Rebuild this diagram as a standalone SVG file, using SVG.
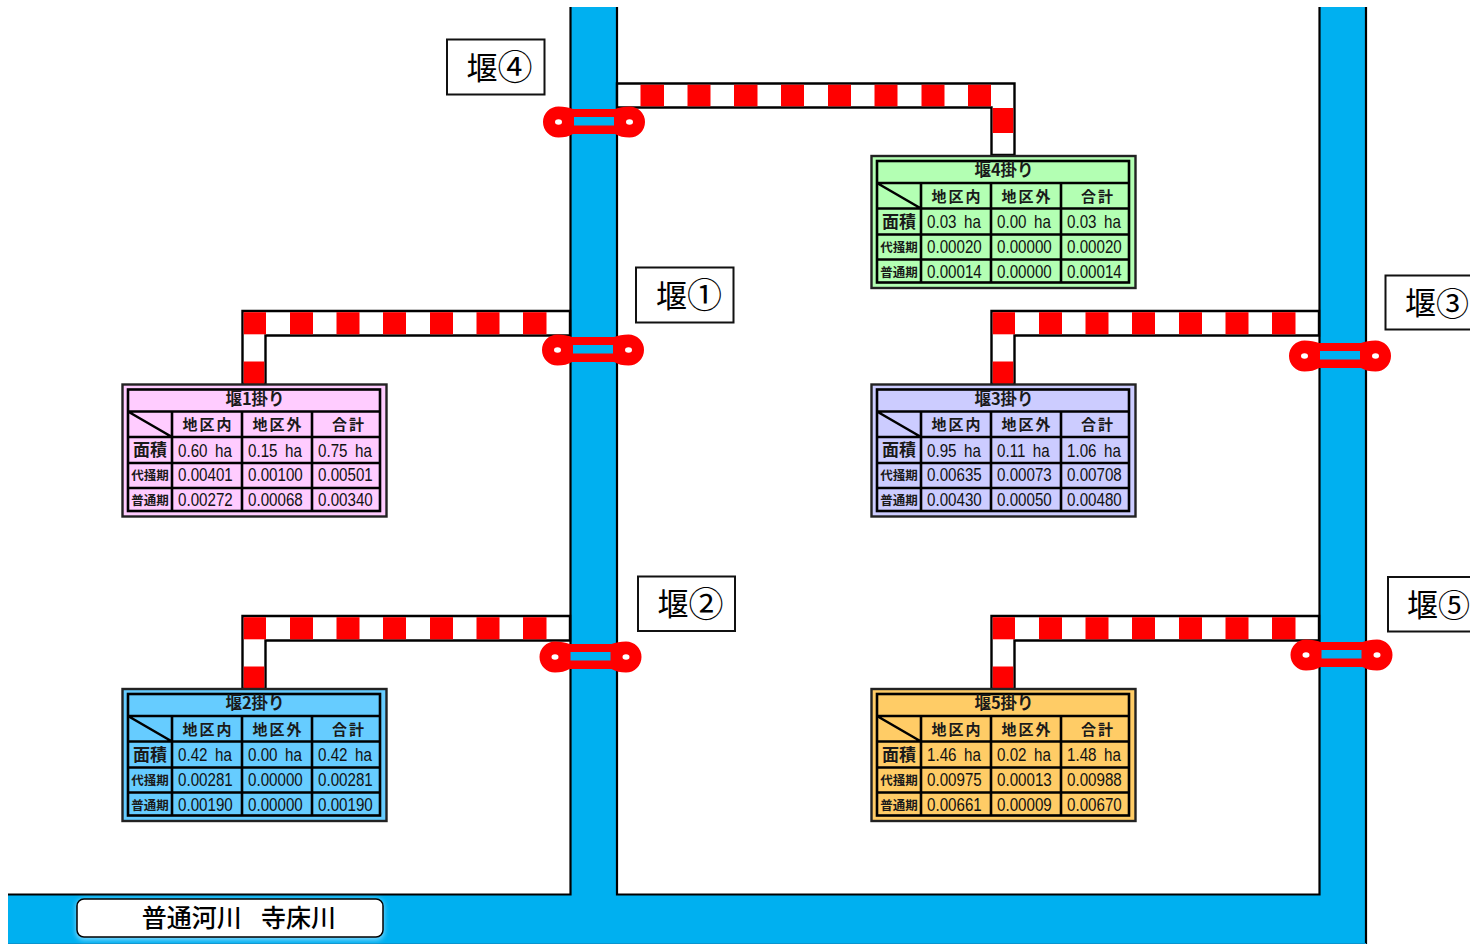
<svg xmlns="http://www.w3.org/2000/svg" xmlns:xlink="http://www.w3.org/1999/xlink" width="1470" height="944" viewBox="0 0 1470 944">
<style>
text{font-family:"Noto Sans CJK JP","Liberation Sans",sans-serif;fill:#000;text-anchor:middle}
.n{font-family:"Liberation Sans","Noto Sans CJK JP",sans-serif;font-size:18.500px;text-anchor:start;word-spacing:4px;transform-box:fill-box;transform-origin:0 0;transform:scaleX(.82);fill:#111}
.h{font-size:15px;letter-spacing:2px;font-weight:700;fill:#1a1a1a}
.t{font-size:16.500px;font-weight:700;fill:#1a1a1a}
.a{font-size:17px;font-weight:700;fill:#1a1a1a}
.s{font-size:12.500px;font-weight:700;fill:#1a1a1a}
.w{font-size:31px}
.c{font-size:35px}
.box{fill:#fff;stroke:#111;stroke-width:2}
.ln{stroke:#000;stroke-width:2.600;fill:none}
.rl{stroke:#000;stroke-width:2.200;fill:none}
.out{stroke:#222;stroke-width:2.400}
.river{fill:#00b0f0}
.red{fill:#f00}
.pipe{fill:#fff;stroke:#000;stroke-width:2.400}
</style>
<defs>
<filter id="glow" x="-10%" y="-30%" width="120%" height="160%"><feGaussianBlur stdDeviation="2.500"/></filter>
<g id="grid">
<rect x="6" y="5.500" width="252" height="121.500" class="ln"/>
<path class="ln" d="M6 27.500H258M6 53H258M6 79H258M6 104H258M50 27.500V127M120 27.500V127M190 27.500V127M6 27.500L50 53"/>
</g>
<g id="pipeA">
<path class="pipe" d="M570 311H242.500V384H265.500V335.500H570Z"/>
<g class="red">
<rect x="243.700" y="312.200" width="22.300" height="22.100"/><rect x="290" y="312.200" width="23" height="22.100"/><rect x="336.500" y="312.200" width="23" height="22.100"/><rect x="383" y="312.200" width="23" height="22.100"/><rect x="430" y="312.200" width="23" height="22.100"/><rect x="476.500" y="312.200" width="23" height="22.100"/><rect x="523" y="312.200" width="23.500" height="22.100"/>
<rect x="243.700" y="361.500" width="20.600" height="22.500"/>
</g>
</g>
<g id="gate">
<path class="red" d="M-35.500 -15.500A15.500 15.500 0 0 0 -35.500 15.500Q-27 15.500 -21 12H21Q27 15.500 35.500 15.500A15.500 15.500 0 0 0 35.500 -15.500Q27 -15.500 21 -13H-21Q-27 -15.500 -35.500 -15.500Z"/>
<rect class="river" x="-20" y="-5" width="40" height="8.500"/>
<ellipse cx="-35.500" cy="0" rx="3.500" ry="2.800" fill="#fff"/>
<ellipse cx="35.500" cy="0" rx="3.500" ry="2.800" fill="#fff"/>
</g>
</defs>

<g id="river">
<path class="river" d="M570 7H617V894H1319V7H1366V944H8V894H570Z"/>
<path class="rl" d="M570.500 7V894.500H8M617 7V894.500H1319.500V7M1366 7V944"/>
<path d="M8 943.500H1366" stroke="#0a94cf" stroke-width="1" fill="none"/>
</g>

<g id="connectors">
<use xlink:href="#pipeA" href="#pipeA"/>
<use xlink:href="#pipeA" href="#pipeA" transform="translate(0,305)"/>
<use xlink:href="#pipeA" href="#pipeA" transform="translate(749,0)"/>
<use xlink:href="#pipeA" href="#pipeA" transform="translate(749,305)"/>
<g id="pipe4">
<path class="pipe" d="M617 83.500H1014.500V155H991.500V107.500H617Z"/>
<g class="red">
<rect x="640.500" y="84.700" width="23.500" height="21.600"/><rect x="687.500" y="84.700" width="23" height="21.600"/><rect x="734" y="84.700" width="23.500" height="21.600"/><rect x="781" y="84.700" width="23" height="21.600"/><rect x="828" y="84.700" width="23" height="21.600"/><rect x="874.500" y="84.700" width="23" height="21.600"/><rect x="921.500" y="84.700" width="23" height="21.600"/><rect x="968" y="84.700" width="23" height="21.600"/>
<rect x="992.700" y="108" width="20.600" height="25"/>
</g>
</g>
<use id="gate4" xlink:href="#gate" href="#gate" transform="translate(594,122)"/>
<use id="gate1" xlink:href="#gate" href="#gate" transform="translate(593,350)"/>
<use id="gate2" xlink:href="#gate" href="#gate" transform="translate(590.500,657)"/>
<use id="gate3" xlink:href="#gate" href="#gate" transform="translate(1340,356)"/>
<use id="gate5" xlink:href="#gate" href="#gate" transform="translate(1341.500,655)"/>
</g>

<g id="label4"><rect class="box" x="447" y="39.500" width="97.500" height="55"/><text class="w" x="499.500" y="78.500">堰<tspan class="c" dy="1.500">④</tspan></text></g>
<g id="label1"><rect class="box" x="636" y="267.500" width="97.500" height="55"/><text class="w" x="689" y="306.500">堰<tspan class="c" dy="1.500">①</tspan></text></g>
<g id="label2"><rect class="box" x="638" y="576.500" width="97" height="54.500"/><text class="w" x="690.500" y="615">堰<tspan class="c" dy="1.500">②</tspan></text></g>
<g id="label3"><rect class="box" x="1385.500" y="275.500" width="97" height="54"/><text class="w" x="1437" y="314">堰<tspan class="c" dy="1.500" font-size="33" style="font-size:33px">③</tspan></text></g>
<g id="label5"><rect class="box" x="1388" y="577" width="97" height="54.500"/><text class="w" x="1438.500" y="615.500">堰<tspan class="c" dy="1" style="font-size:32px">⑤</tspan></text></g>

<g id="river-name"><rect x="76" y="899" width="308" height="41" rx="8" fill="#7fd8ff" filter="url(#glow)"/><rect x="77" y="899" width="306" height="38" rx="7" fill="#fff" stroke="#000" stroke-width="1.500"/><text x="239" y="927" font-size="25" font-weight="500" xml:space="preserve" word-spacing="4">普通河川  寺床川</text></g>

<g id="table1" transform="translate(122,384)">
<rect class="out" x="0.500" y="0.500" width="264" height="132" fill="#ffccff"/><use xlink:href="#grid" href="#grid"/>
<text class="t" x="133" y="20.500">堰1掛り</text><text class="h" x="86" y="46">地区内</text><text class="h" x="156" y="46">地区外</text><text class="h" x="227" y="46">合計</text>
<text class="a" x="28" y="72">面積</text><text class="s" x="28" y="96">代掻期</text><text class="s" x="28" y="121">普通期</text>
<text class="n" x="56" y="72.500">0.60 ha</text><text class="n" x="126" y="72.500">0.15 ha</text><text class="n" x="196" y="72.500">0.75 ha</text>
<text class="n" x="56" y="97.500">0.00401</text><text class="n" x="126" y="97.500">0.00100</text><text class="n" x="196" y="97.500">0.00501</text>
<text class="n" x="56" y="122.500">0.00272</text><text class="n" x="126" y="122.500">0.00068</text><text class="n" x="196" y="122.500">0.00340</text>
</g>
<g id="table2" transform="translate(122,688.500)">
<rect class="out" x="0.500" y="0.500" width="264" height="132" fill="#66ccff"/><use xlink:href="#grid" href="#grid"/>
<text class="t" x="133" y="20.500">堰2掛り</text><text class="h" x="86" y="46">地区内</text><text class="h" x="156" y="46">地区外</text><text class="h" x="227" y="46">合計</text>
<text class="a" x="28" y="72">面積</text><text class="s" x="28" y="96">代掻期</text><text class="s" x="28" y="121">普通期</text>
<text class="n" x="56" y="72.500">0.42 ha</text><text class="n" x="126" y="72.500">0.00 ha</text><text class="n" x="196" y="72.500">0.42 ha</text>
<text class="n" x="56" y="97.500">0.00281</text><text class="n" x="126" y="97.500">0.00000</text><text class="n" x="196" y="97.500">0.00281</text>
<text class="n" x="56" y="122.500">0.00190</text><text class="n" x="126" y="122.500">0.00000</text><text class="n" x="196" y="122.500">0.00190</text>
</g>
<g id="table3" transform="translate(871,384)">
<rect class="out" x="0.500" y="0.500" width="264" height="132" fill="#ccccff"/><use xlink:href="#grid" href="#grid"/>
<text class="t" x="133" y="20.500">堰3掛り</text><text class="h" x="86" y="46">地区内</text><text class="h" x="156" y="46">地区外</text><text class="h" x="227" y="46">合計</text>
<text class="a" x="28" y="72">面積</text><text class="s" x="28" y="96">代掻期</text><text class="s" x="28" y="121">普通期</text>
<text class="n" x="56" y="72.500">0.95 ha</text><text class="n" x="126" y="72.500">0.11 ha</text><text class="n" x="196" y="72.500">1.06 ha</text>
<text class="n" x="56" y="97.500">0.00635</text><text class="n" x="126" y="97.500">0.00073</text><text class="n" x="196" y="97.500">0.00708</text>
<text class="n" x="56" y="122.500">0.00430</text><text class="n" x="126" y="122.500">0.00050</text><text class="n" x="196" y="122.500">0.00480</text>
</g>
<g id="table4" transform="translate(871,155.500)">
<rect class="out" x="0.500" y="0.500" width="264" height="132" fill="#b3ffb3"/><use xlink:href="#grid" href="#grid"/>
<text class="t" x="133" y="20.500">堰4掛り</text><text class="h" x="86" y="46">地区内</text><text class="h" x="156" y="46">地区外</text><text class="h" x="227" y="46">合計</text>
<text class="a" x="28" y="72">面積</text><text class="s" x="28" y="96">代掻期</text><text class="s" x="28" y="121">普通期</text>
<text class="n" x="56" y="72.500">0.03 ha</text><text class="n" x="126" y="72.500">0.00 ha</text><text class="n" x="196" y="72.500">0.03 ha</text>
<text class="n" x="56" y="97.500">0.00020</text><text class="n" x="126" y="97.500">0.00000</text><text class="n" x="196" y="97.500">0.00020</text>
<text class="n" x="56" y="122.500">0.00014</text><text class="n" x="126" y="122.500">0.00000</text><text class="n" x="196" y="122.500">0.00014</text>
</g>
<g id="table5" transform="translate(871,688.500)">
<rect class="out" x="0.500" y="0.500" width="264" height="132" fill="#ffcc66"/><use xlink:href="#grid" href="#grid"/>
<text class="t" x="133" y="20.500">堰5掛り</text><text class="h" x="86" y="46">地区内</text><text class="h" x="156" y="46">地区外</text><text class="h" x="227" y="46">合計</text>
<text class="a" x="28" y="72">面積</text><text class="s" x="28" y="96">代掻期</text><text class="s" x="28" y="121">普通期</text>
<text class="n" x="56" y="72.500">1.46 ha</text><text class="n" x="126" y="72.500">0.02 ha</text><text class="n" x="196" y="72.500">1.48 ha</text>
<text class="n" x="56" y="97.500">0.00975</text><text class="n" x="126" y="97.500">0.00013</text><text class="n" x="196" y="97.500">0.00988</text>
<text class="n" x="56" y="122.500">0.00661</text><text class="n" x="126" y="122.500">0.00009</text><text class="n" x="196" y="122.500">0.00670</text>
</g>
</svg>
